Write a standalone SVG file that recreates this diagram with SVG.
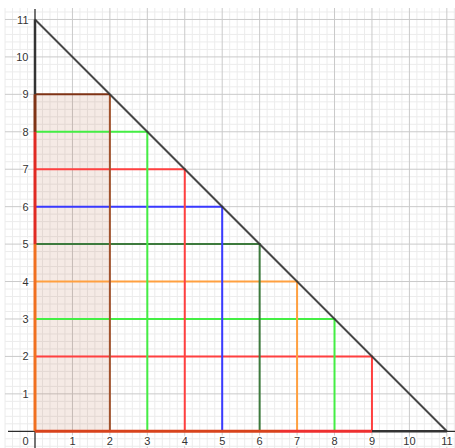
<svg xmlns="http://www.w3.org/2000/svg" width="455" height="448" viewBox="0 0 455 448">
<style>
.minor{stroke:#ececec;stroke-width:1;fill:none}
.major{stroke:#cacaca;stroke-width:1;fill:none}
.axis{stroke:#2b2b2b;stroke-width:1.3;fill:none}
.lbl{font-family:"Liberation Sans",Arial,sans-serif;font-size:11px;fill:#333;stroke:#fff;stroke-width:3;paint-order:stroke;stroke-linejoin:round}
.xl{text-anchor:middle}
.yl{text-anchor:end}
.edge{fill:none;stroke-width:2;stroke-linecap:butt}
</style>
<rect width="455" height="448" fill="#fff"/>
<g id="grid">
<path class="minor" d="M5.05 8V448M12.54 8V448M20.02 8V448M27.51 8V448M42.49 8V448M49.98 8V448M57.46 8V448M64.95 8V448M79.93 8V448M87.42 8V448M94.9 8V448M102.39 8V448M117.37 8V448M124.86 8V448M132.34 8V448M139.83 8V448M154.81 8V448M162.3 8V448M169.78 8V448M177.27 8V448M192.25 8V448M199.74 8V448M207.22 8V448M214.71 8V448M229.69 8V448M237.18 8V448M244.66 8V448M252.15 8V448M267.13 8V448M274.62 8V448M282.1 8V448M289.59 8V448M304.57 8V448M312.06 8V448M319.54 8V448M327.03 8V448M342.01 8V448M349.5 8V448M356.98 8V448M364.47 8V448M379.45 8V448M386.94 8V448M394.42 8V448M401.91 8V448M416.89 8V448M424.38 8V448M431.86 8V448M439.35 8V448M454.33 8V448
M5 446.28H455M5 438.79H455M5 423.81H455M5 416.32H455M5 408.84H455M5 401.35H455M5 386.37H455M5 378.88H455M5 371.4H455M5 363.91H455M5 348.93H455M5 341.44H455M5 333.96H455M5 326.47H455M5 311.49H455M5 304H455M5 296.52H455M5 289.03H455M5 274.05H455M5 266.56H455M5 259.08H455M5 251.59H455M5 236.61H455M5 229.12H455M5 221.64H455M5 214.15H455M5 199.17H455M5 191.68H455M5 184.2H455M5 176.71H455M5 161.73H455M5 154.24H455M5 146.76H455M5 139.27H455M5 124.29H455M5 116.8H455M5 109.32H455M5 101.83H455M5 86.85H455M5 79.36H455M5 71.88H455M5 64.39H455M5 49.41H455M5 41.92H455M5 34.44H455M5 26.95H455M5 11.97H455"/>
<path class="major" d="M72.44 8V448M109.88 8V448M147.32 8V448M184.76 8V448M222.2 8V448M259.64 8V448M297.08 8V448M334.52 8V448M371.96 8V448M409.4 8V448M446.84 8V448
M5 393.86H455M5 356.42H455M5 318.98H455M5 281.54H455M5 244.1H455M5 206.66H455M5 169.22H455M5 131.78H455M5 94.34H455M5 56.9H455M5 19.46H455"/>
</g>
<g id="shaded-region">
<rect x="35" y="94.34" width="74.88" height="336.96" fill="#993300" fill-opacity="0.1"/>
</g>
<g id="axes">
<path class="axis" d="M8 431.3H455M35 9V448"/>
</g>
<g id="labels">
<text class="lbl xl" x="72.44" y="444.5">1</text>
<text class="lbl xl" x="109.88" y="444.5">2</text>
<text class="lbl xl" x="147.32" y="444.5">3</text>
<text class="lbl xl" x="184.76" y="444.5">4</text>
<text class="lbl xl" x="222.2" y="444.5">5</text>
<text class="lbl xl" x="259.64" y="444.5">6</text>
<text class="lbl xl" x="297.08" y="444.5">7</text>
<text class="lbl xl" x="334.52" y="444.5">8</text>
<text class="lbl xl" x="371.96" y="444.5">9</text>
<text class="lbl xl" x="409.4" y="444.5">10</text>
<text class="lbl xl" x="446.84" y="444.5">11</text>
<text class="lbl yl" x="28.5" y="444.5">0</text>
<text class="lbl yl" x="28.5" y="397.9">1</text>
<text class="lbl yl" x="28.5" y="360.4">2</text>
<text class="lbl yl" x="28.5" y="323">3</text>
<text class="lbl yl" x="28.5" y="285.5">4</text>
<text class="lbl yl" x="28.5" y="248.1">5</text>
<text class="lbl yl" x="28.5" y="210.7">6</text>
<text class="lbl yl" x="28.5" y="173.2">7</text>
<text class="lbl yl" x="28.5" y="135.8">8</text>
<text class="lbl yl" x="28.5" y="98.3">9</text>
<text class="lbl yl" x="28.5" y="60.9">10</text>
<text class="lbl yl" x="28.5" y="23.5">11</text>
</g>
<g id="rectangles">
<g id="rect-9-2"><path class="edge" stroke="#ff4040" d="M35 356.42H371.96V431.3"/></g>
<g id="rect-8-3"><path class="edge" stroke="#44ee44" d="M35 318.98H334.52V431.3"/></g>
<g id="rect-7-4"><path class="edge" stroke="#ffa040" d="M35 281.54H297.08V431.3"/></g>
<g id="rect-6-5"><path class="edge" stroke="#3d7a3d" d="M35 244.1H259.64V431.3"/></g>
<g id="rect-5-6"><path class="edge" stroke="#3a3aff" d="M35 206.66H222.2V431.3"/></g>
<g id="rect-4-7"><path class="edge" stroke="#ff4040" d="M35 169.22H184.76V431.3"/></g>
<g id="rect-3-8"><path class="edge" stroke="#44ee44" d="M35 131.78H147.32V431.3"/></g>
<g id="rect-2-9"><path class="edge" stroke="#a0522d" d="M109.88 94.34V431.3"/><path class="edge" stroke="#7f3315" stroke-width="2.5" d="M35 94.34H109.88"/></g>
</g>
<g id="triangle">
<path fill="none" stroke="#333" stroke-width="2" stroke-opacity="0.9" d="M35 19.46L446.84 431.3"/>
<path fill="none" stroke="#333" stroke-width="2.5" d="M35 19.46V94.34M371.96 431.3H446.84"/>
</g>
<g id="axis-overlays">
<path fill="none" stroke-width="3" stroke="#f07020" d="M35 431.3V244.1"/>
<path fill="none" stroke-width="3" stroke="#e02a22" d="M35 244.1V131.78"/>
<path fill="none" stroke-width="3" stroke="#7f3315" d="M35 131.78V94.34"/>
<path fill="none" stroke-width="3" stroke="#d8431c" d="M35 431.3H280"/>
<path fill="none" stroke-width="3" stroke="#ee3030" d="M280 431.3H371.96"/>
</g>
</svg>
